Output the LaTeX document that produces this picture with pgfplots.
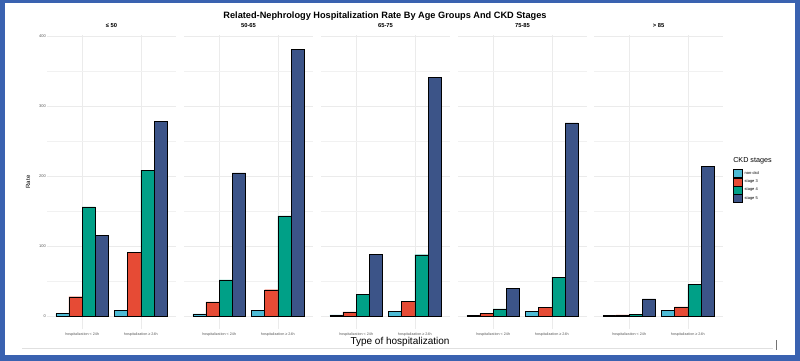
\documentclass[border=0pt]{standalone}
\usepackage{fontspec}
\setmainfont{Liberation Sans}
\usepackage{pgfplots}
\pgfplotsset{compat=1.18}
\definecolor{cNon}{HTML}{4DBBD5}
\definecolor{cS3}{HTML}{E64B35}
\definecolor{cS4}{HTML}{00A087}
\definecolor{cS5}{HTML}{3C5488}
\definecolor{frame}{HTML}{3A62B0}
\definecolor{gridc}{HTML}{EBEBEB}
\definecolor{tickc}{HTML}{5A5A5A}
\pgfplotsset{
  panel/.style={
    scale only axis, width=129pt, height=294pt,
    anchor=south west,
    xmin=0.4, xmax=2.6, ymin=-19, ymax=401,
    axis line style={draw=none}, tick style={draw=none},
    major tick length=0pt, minor tick length=0pt,
    xtick={1,2}, ytick={0,100,200,300,400}, minor ytick={50,150,250,350},
    grid=both,
    major grid style={draw=gridc, line width=0.5pt},
    minor grid style={draw=gridc!70, line width=0.35pt},
    xticklabels={hospitalization < 24h, hospitalization ≥ 24h},
    xticklabel style={font=\fontsize{3.7}{4}\selectfont, text=tickc, inner sep=1pt, yshift=-2pt},
    yticklabel style={font=\fontsize{4}{5}\selectfont, text=tickc, inner sep=1pt},
    /pgf/number format/assume math mode=true,
    title style={font=\bfseries\fontsize{5.8}{7}\selectfont, at={(0.5,1)}, anchor=south, inner sep=1.5pt},
    bar width=0.225,
    clip=false,
  },
  bstyle/.style={ybar, draw=black, line width=0.4pt},
}
\begin{document}
\begin{tikzpicture}[x=1pt,y=1pt]
\fill[frame] (0pt,0pt) rectangle (800pt,361pt);
\fill[white] (5pt,6pt) rectangle (795pt,358pt);
\draw[black!12, line width=0.6pt] (22pt,13pt) -- (773pt,13pt);
\draw[black!55, line width=0.8pt] (776pt,11pt) -- (776pt,21pt);

\begin{axis}[panel, at={(47pt,31.7pt)}, title={≤ 50}]
\addplot[bstyle, bar shift=-0.3375, fill=cNon] coordinates {(1,3.5) (2,8.5)};
\addplot[bstyle, bar shift=-0.1125, fill=cS3] coordinates {(1,27.5) (2,91)};
\addplot[bstyle, bar shift=0.1125, fill=cS4] coordinates {(1,156) (2,208.5)};
\addplot[bstyle, bar shift=0.3375, fill=cS5] coordinates {(1,115.5) (2,278)};
\end{axis}

\begin{axis}[panel, at={(184pt,31.7pt)}, title={50-65}, yticklabels={}]
\addplot[bstyle, bar shift=-0.3375, fill=cNon] coordinates {(1,3) (2,7.7)};
\addplot[bstyle, bar shift=-0.1125, fill=cS3] coordinates {(1,20) (2,37.5)};
\addplot[bstyle, bar shift=0.1125, fill=cS4] coordinates {(1,51.5) (2,143)};
\addplot[bstyle, bar shift=0.3375, fill=cS5] coordinates {(1,204.5) (2,380.5)};
\end{axis}

\begin{axis}[panel, at={(321pt,31.7pt)}, title={65-75}, yticklabels={}]
\addplot[bstyle, bar shift=-0.3375, fill=cNon] coordinates {(1,1.5) (2,6.5)};
\addplot[bstyle, bar shift=-0.1125, fill=cS3] coordinates {(1,6) (2,21)};
\addplot[bstyle, bar shift=0.1125, fill=cS4] coordinates {(1,31) (2,87.5)};
\addplot[bstyle, bar shift=0.3375, fill=cS5] coordinates {(1,88.5) (2,341)};
\end{axis}

\begin{axis}[panel, at={(458pt,31.7pt)}, title={75-85}, yticklabels={}]
\addplot[bstyle, bar shift=-0.3375, fill=cNon] coordinates {(1,1) (2,7)};
\addplot[bstyle, bar shift=-0.1125, fill=cS3] coordinates {(1,3.5) (2,12)};
\addplot[bstyle, bar shift=0.1125, fill=cS4] coordinates {(1,10) (2,55.5)};
\addplot[bstyle, bar shift=0.3375, fill=cS5] coordinates {(1,39) (2,276)};
\end{axis}

\begin{axis}[panel, at={(594pt,31.7pt)}, title={> 85}, yticklabels={},
  legend style={at={(1.078,0.545)}, anchor=north west, draw=none, fill=none,
    font=\fontsize{4}{5}\selectfont, inner sep=0pt, row sep=0pt,
    /tikz/every even column/.append style={column sep=3pt}},
  legend cell align=left,
  legend image code/.code={\draw[#1, draw=black, line width=0.4pt] (0pt,-4pt) rectangle (9pt,4pt);}]
\addplot[bstyle, bar shift=-0.3375, fill=cNon] coordinates {(1,0.5) (2,8)};
\addplot[bstyle, bar shift=-0.1125, fill=cS3] coordinates {(1,1.5) (2,13)};
\addplot[bstyle, bar shift=0.1125, fill=cS4] coordinates {(1,2.5) (2,45)};
\addplot[bstyle, bar shift=0.3375, fill=cS5] coordinates {(1,24.5) (2,214)};
\legend{non-ckd, stage 3, stage 4, stage 5}
\node[anchor=south west, inner sep=0pt, font=\fontsize{7.2}{8}\selectfont] at (rel axis cs:1.078,0.562) {CKD stages};
\end{axis}

\node[font=\bfseries\fontsize{9.2}{11}\selectfont] at (385pt,345pt) {Related-Nephrology Hospitalization Rate By Age Groups And CKD Stages};
\node[font=\fontsize{10}{12}\selectfont] at (400pt,19pt) {Type of hospitalization};
\node[font=\fontsize{6}{7}\selectfont, rotate=90] at (28pt,179pt) {Rate};
\end{tikzpicture}
\end{document}
